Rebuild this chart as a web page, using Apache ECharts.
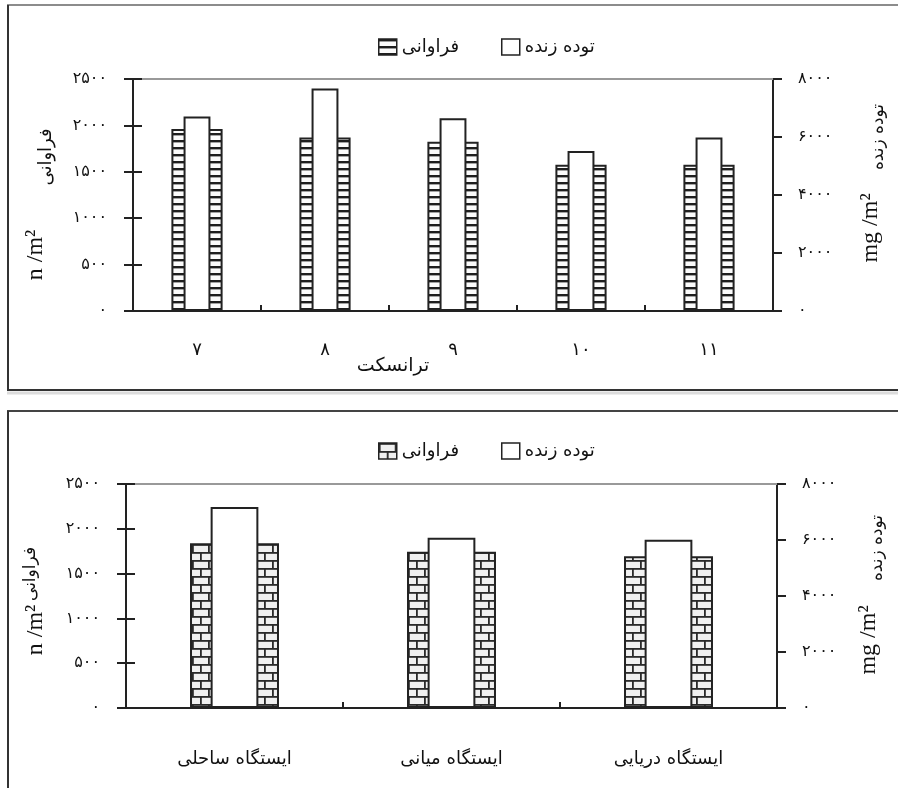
<!DOCTYPE html>
<html>
<head>
<meta charset="utf-8">
<script src="https://cdn.jsdelivr.net/npm/echarts@6/dist/echarts.min.js"></script>
<style>
  html, body { margin: 0; padding: 0; background: #fff; }
  #chart { width: 898px; height: 788px; }
</style>
</head>
<body>
<div id="chart"></div>
<script>
// Transect chart (top)
const transects = ['۷', '۸', '۹', '۱۰', '۱۱'];
const abundanceTransect = [1960, 1870, 1825, 1575, 1575];   // n/m2
const biomassTransect = [6710, 7670, 6650, 5520, 5980];     // mg/m2

// Station chart (bottom)
const stations = ['ایستگاه ساحلی', 'ایستگاه میانی', 'ایستگاه دریایی'];
const abundanceStation = [1840, 1745, 1695];
const biomassStation = [7180, 6080, 6010];

const abundanceName = 'فراوانی';
const biomassName = 'توده زنده';
const abundanceTicks = { min: 0, max: 2500, interval: 500 };
const biomassTicks = { min: 0, max: 8000, interval: 2000 };

const FA = 'DejaVu Sans';
const faDigits = '۰۱۲۳۴۵۶۷۸۹';
const toFa = v => String(v).replace(/[0-9]/g, d => faDigits[+d]);

// Fill patterns for the abundance bars
function ladderPattern() {
  const c = document.createElement('canvas');
  c.width = 8; c.height = 7;
  const g = c.getContext('2d');
  g.fillStyle = '#fbfbfb'; g.fillRect(0, 0, 8, 7);
  g.fillStyle = '#1e1e1e'; g.fillRect(0, 0, 8, 2.4);
  return { image: c, repeat: 'repeat' };
}
function brickPattern() {
  const c = document.createElement('canvas');
  c.width = 16; c.height = 16;
  const g = c.getContext('2d');
  g.fillStyle = '#f0f0f0'; g.fillRect(0, 0, 16, 16);
  g.fillStyle = '#2a2a2a';
  g.fillRect(0, 0, 16, 1.8);
  g.fillRect(0, 8, 16, 1.8);
  g.fillRect(0, 0, 1.8, 8);
  g.fillRect(8, 8, 1.8, 8);
  return { image: c, repeat: 'repeat' };
}
const ladder = ladderPattern();
const brick = brickPattern();

const dark = '#222';
const tickLabel = { fontFamily: FA, fontSize: 16, color: '#111', formatter: v => toFa(v) };

function catAxes(grid, cats, labelMargin, labelSize) {
  return [
    {
      gridIndex: grid, type: 'category', data: cats, position: 'bottom',
      axisLine: { onZero: false, lineStyle: { color: dark, width: 2 } },
      axisTick: { show: true, inside: true, length: 6, lineStyle: { color: dark, width: 2 } },
      axisLabel: { margin: labelMargin, fontFamily: FA, fontSize: labelSize, color: '#111' },
      splitLine: { show: false }
    },
    {
      gridIndex: grid, type: 'category', data: cats, position: 'top',
      axisLine: { onZero: false, lineStyle: { color: '#999', width: 2 } },
      axisTick: { show: false }, axisLabel: { show: false }, splitLine: { show: false }
    }
  ];
}
function valAxes(grid) {
  return [
    {
      gridIndex: grid, type: 'value', position: 'left', ...abundanceTicks,
      axisLine: { show: true, lineStyle: { color: dark, width: 2 } },
      axisTick: { show: true, length: 9, lineStyle: { color: dark, width: 2 } },
      axisLabel: { ...tickLabel, margin: 26 },
      splitLine: { show: false }
    },
    {
      gridIndex: grid, type: 'value', position: 'left', ...abundanceTicks,
      axisLine: { show: false },
      axisTick: { show: true, inside: true, length: 9, lineStyle: { color: dark, width: 2 } },
      axisLabel: { show: false }, splitLine: { show: false }
    },
    {
      gridIndex: grid, type: 'value', position: 'right', ...biomassTicks,
      axisLine: { show: true, lineStyle: { color: dark, width: 2 } },
      axisTick: { show: true, length: 9, lineStyle: { color: dark, width: 2 } },
      axisLabel: { ...tickLabel, margin: 25 },
      splitLine: { show: false }
    }
  ];
}

function legend(top, pattern) {
  return {
    top: top, left: 373, orient: 'horizontal', icon: 'rect',
    itemWidth: 18, itemHeight: 16, itemGap: 42,
    textStyle: { fontFamily: FA, fontSize: 18, color: '#111' },
    data: [
      { name: abundanceName, itemStyle: { color: pattern, borderColor: dark, borderWidth: 1.5 } },
      { name: biomassName, itemStyle: { color: '#fff', borderColor: dark, borderWidth: 1.5 } }
    ]
  };
}

function vText(x, y, text, font) {
  return {
    type: 'text', x: x, y: y, rotation: Math.PI / 2,
    style: { text: text, font: font, fill: '#111', align: 'center', verticalAlign: 'middle' }
  };
}

const chart = echarts.init(document.getElementById('chart'), null, { renderer: 'canvas' });

chart.setOption({
  backgroundColor: '#fff',
  animation: false,
  legend: [legend(33, ladder), legend(437, brick)],
  grid: [
    { left: 133, top: 79, width: 640, height: 232, outerBoundsMode: 'none', containLabel: false },
    { left: 126, top: 484, width: 651, height: 224, outerBoundsMode: 'none', containLabel: false }
  ],
  xAxis: [...catAxes(0, transects, 30, 18), ...catAxes(1, stations, 42, 18)],
  yAxis: [...valAxes(0), ...valAxes(1)],
  series: [
    {
      type: 'bar', name: abundanceName, xAxisIndex: 0, yAxisIndex: 0,
      data: abundanceTransect, barWidth: '40%',
      itemStyle: { color: ladder, borderColor: dark, borderWidth: 2 }
    },
    {
      type: 'bar', name: biomassName, xAxisIndex: 1, yAxisIndex: 2,
      data: biomassTransect, barWidth: '21%',
      itemStyle: { color: '#fff', borderColor: dark, borderWidth: 2 }
    },
    {
      type: 'bar', name: abundanceName, xAxisIndex: 2, yAxisIndex: 3,
      data: abundanceStation, barWidth: '41%',
      itemStyle: { color: brick, borderColor: dark, borderWidth: 2 }
    },
    {
      type: 'bar', name: biomassName, xAxisIndex: 3, yAxisIndex: 5,
      data: biomassStation, barWidth: '22%',
      itemStyle: { color: '#fff', borderColor: dark, borderWidth: 2 }
    }
  ],
  graphic: [
    // panel frames
    { type: 'line', shape: { x1: 7, y1: 5, x2: 898, y2: 5 }, style: { stroke: '#8c8c8c', lineWidth: 2 } },
    { type: 'line', shape: { x1: 8, y1: 5, x2: 8, y2: 390 }, style: { stroke: '#333', lineWidth: 2 } },
    { type: 'line', shape: { x1: 7, y1: 390, x2: 898, y2: 390 }, style: { stroke: '#333', lineWidth: 2 } },
    { type: 'line', shape: { x1: 7, y1: 393, x2: 898, y2: 393 }, style: { stroke: '#dcdcdc', lineWidth: 3 } },
    { type: 'line', shape: { x1: 7, y1: 411, x2: 898, y2: 411 }, style: { stroke: '#444', lineWidth: 2 } },
    { type: 'line', shape: { x1: 8, y1: 411, x2: 8, y2: 788 }, style: { stroke: '#333', lineWidth: 2 } },

    // top chart axis names
    vText(36, 255, 'n /m²', '24px "Liberation Serif"'),
    vText(46, 157, abundanceName, '18px "DejaVu Sans"'),
    vText(871, 228, 'mg /m²', '24px "Liberation Serif"'),
    vText(879, 137, biomassName, '17px "DejaVu Sans"'),
    {
      type: 'text', x: 393, y: 366,
      style: { text: 'ترانسکت', font: '19px "DejaVu Sans"', fill: '#111', align: 'center', verticalAlign: 'middle' }
    },

    // bottom chart axis names
    vText(36, 630, 'n /m²', '24px "Liberation Serif"'),
    vText(31, 574, abundanceName, '17px "DejaVu Sans"'),
    vText(869, 640, 'mg /m²', '24px "Liberation Serif"'),
    vText(878, 548, biomassName, '17px "DejaVu Sans"')
  ]
});
</script>
</body>
</html>
